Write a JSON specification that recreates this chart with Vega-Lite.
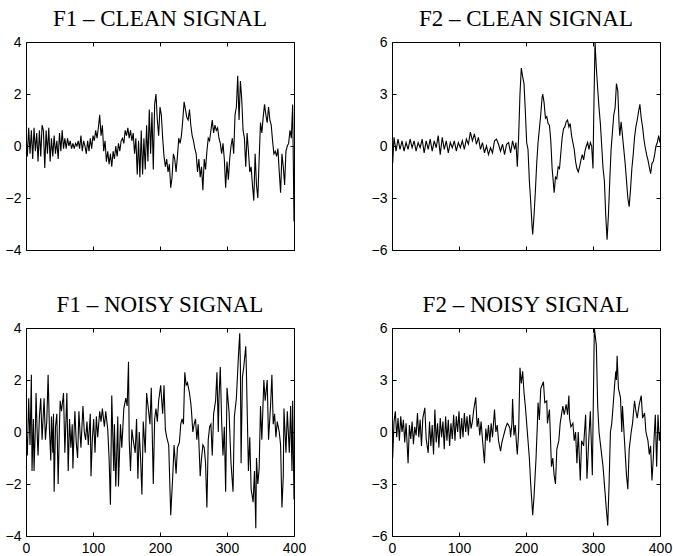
{
"$schema": "https://vega.github.io/schema/vega-lite/v6.json",
"padding": {"left": 4, "top": 7, "right": 5, "bottom": 0},
"background": "white",
"datasets": {
"f1c": [{"x":0,"y":0.5},{"x":2,"y":-0.4},{"x":4,"y":0.7},{"x":6,"y":-0.3},{"x":8,"y":0.6},{"x":10,"y":-0.5},{"x":12,"y":0.7},{"x":14,"y":-0.2},{"x":16,"y":0.5},{"x":18,"y":-0.6},{"x":20,"y":0.6},{"x":22,"y":-0.4},{"x":24,"y":0.8},{"x":26,"y":0.6},{"x":28,"y":-0.85},{"x":30,"y":0.6},{"x":32,"y":-0.3},{"x":34,"y":0.7},{"x":36,"y":-0.6},{"x":38,"y":0.3},{"x":40,"y":-0.4},{"x":42,"y":0.4},{"x":44,"y":-0.3},{"x":46,"y":0.2},{"x":48,"y":-0.5},{"x":50,"y":0.5},{"x":52,"y":-0.2},{"x":54,"y":0.6},{"x":56,"y":-0.1},{"x":58,"y":0.3},{"x":60,"y":-0.1},{"x":62,"y":0.3},{"x":64,"y":0.0},{"x":66,"y":0.2},{"x":68,"y":-0.1},{"x":70,"y":0.1},{"x":72,"y":-0.1},{"x":74,"y":0.1},{"x":76,"y":0.0},{"x":78,"y":0.2},{"x":80,"y":-0.1},{"x":82,"y":0.4},{"x":84,"y":-0.2},{"x":86,"y":0.2},{"x":88,"y":0.0},{"x":90,"y":-0.3},{"x":92,"y":0.2},{"x":94,"y":-0.2},{"x":96,"y":0.3},{"x":98,"y":-0.1},{"x":100,"y":0.4},{"x":102,"y":0.2},{"x":104,"y":0.6},{"x":106,"y":0.3},{"x":108,"y":0.7},{"x":110,"y":1.2},{"x":112,"y":0.4},{"x":114,"y":0.8},{"x":116,"y":-0.2},{"x":118,"y":0.2},{"x":120,"y":-0.6},{"x":122,"y":-0.2},{"x":124,"y":-0.7},{"x":126,"y":-0.3},{"x":128,"y":-0.8},{"x":130,"y":-0.2},{"x":132,"y":-0.5},{"x":134,"y":0.0},{"x":136,"y":-0.4},{"x":138,"y":0.1},{"x":140,"y":-0.2},{"x":142,"y":0.2},{"x":144,"y":0.3},{"x":146,"y":0.1},{"x":148,"y":0.6},{"x":150,"y":0.4},{"x":152,"y":0.7},{"x":154,"y":0.3},{"x":156,"y":0.6},{"x":158,"y":0.2},{"x":160,"y":0.5},{"x":162,"y":-0.3},{"x":164,"y":0.3},{"x":166,"y":-1.1},{"x":168,"y":0.2},{"x":170,"y":-1.2},{"x":172,"y":0.6},{"x":174,"y":-1.1},{"x":176,"y":0.3},{"x":178,"y":-0.9},{"x":180,"y":0.8},{"x":182,"y":-0.6},{"x":184,"y":1.4},{"x":186,"y":-0.3},{"x":188,"y":1.3},{"x":190,"y":-0.9},{"x":192,"y":1.6},{"x":194,"y":2.0},{"x":196,"y":1.0},{"x":198,"y":0.4},{"x":200,"y":1.5},{"x":202,"y":1.2},{"x":204,"y":0.3},{"x":206,"y":-0.4},{"x":208,"y":-0.8},{"x":210,"y":-0.5},{"x":212,"y":-1.0},{"x":214,"y":-0.7},{"x":216,"y":-1.6},{"x":218,"y":-1.2},{"x":220,"y":-0.3},{"x":222,"y":-0.5},{"x":224,"y":-1.0},{"x":226,"y":-0.4},{"x":228,"y":0.3},{"x":230,"y":0.1},{"x":232,"y":0.4},{"x":234,"y":1.0},{"x":236,"y":1.7},{"x":238,"y":1.4},{"x":240,"y":1.1},{"x":242,"y":1.0},{"x":244,"y":1.4},{"x":246,"y":0.8},{"x":248,"y":0.4},{"x":250,"y":0.2},{"x":252,"y":-0.1},{"x":254,"y":-0.3},{"x":256,"y":-1.0},{"x":258,"y":-0.5},{"x":260,"y":-1.2},{"x":262,"y":-0.8},{"x":264,"y":-1.7},{"x":266,"y":-0.5},{"x":268,"y":-0.9},{"x":270,"y":-0.2},{"x":272,"y":0.3},{"x":274,"y":0.2},{"x":276,"y":0.6},{"x":278,"y":1.0},{"x":280,"y":0.5},{"x":282,"y":0.8},{"x":284,"y":0.6},{"x":286,"y":0.7},{"x":288,"y":0.3},{"x":290,"y":0.1},{"x":292,"y":-0.3},{"x":294,"y":0.1},{"x":296,"y":-0.5},{"x":298,"y":-1.6},{"x":300,"y":-0.6},{"x":302,"y":-1.3},{"x":304,"y":-0.5},{"x":306,"y":0.0},{"x":308,"y":0.3},{"x":310,"y":-0.3},{"x":312,"y":1.2},{"x":314,"y":1.5},{"x":316,"y":2.7},{"x":318,"y":1.0},{"x":320,"y":2.5},{"x":322,"y":1.8},{"x":324,"y":0.6},{"x":326,"y":0.3},{"x":328,"y":-0.8},{"x":330,"y":0.5},{"x":332,"y":-0.2},{"x":334,"y":-1.0},{"x":336,"y":-0.8},{"x":338,"y":-1.5},{"x":340,"y":-2.1},{"x":342,"y":-0.3},{"x":344,"y":-1.5},{"x":346,"y":-2.0},{"x":348,"y":-0.5},{"x":350,"y":0.9},{"x":352,"y":0.5},{"x":354,"y":1.1},{"x":356,"y":1.6},{"x":358,"y":1.2},{"x":360,"y":0.9},{"x":362,"y":1.5},{"x":364,"y":1.0},{"x":366,"y":0.8},{"x":368,"y":0.2},{"x":370,"y":-0.3},{"x":372,"y":-0.2},{"x":374,"y":-0.4},{"x":376,"y":-0.1},{"x":378,"y":-1.0},{"x":380,"y":-1.8},{"x":382,"y":-0.3},{"x":384,"y":-0.8},{"x":386,"y":-1.5},{"x":388,"y":-0.2},{"x":390,"y":0.0},{"x":392,"y":0.1},{"x":394,"y":0.6},{"x":396,"y":0.3},{"x":398,"y":1.6},{"x":400,"y":-2.9}],
"f2c": [{"x":0,"y":0.6},{"x":1,"y":-1.0},{"x":3,"y":0.5},{"x":6,"y":-0.3},{"x":9,"y":0.4},{"x":12,"y":-0.2},{"x":15,"y":0.3},{"x":18,"y":-0.3},{"x":21,"y":0.2},{"x":24,"y":-0.2},{"x":27,"y":0.4},{"x":30,"y":-0.1},{"x":33,"y":0.3},{"x":36,"y":-0.3},{"x":39,"y":0.2},{"x":42,"y":-0.1},{"x":45,"y":0.4},{"x":48,"y":-0.4},{"x":51,"y":0.3},{"x":54,"y":-0.2},{"x":57,"y":0.4},{"x":60,"y":-0.3},{"x":63,"y":0.3},{"x":66,"y":-0.1},{"x":69,"y":0.6},{"x":72,"y":-0.5},{"x":75,"y":0.5},{"x":78,"y":-0.2},{"x":81,"y":0.3},{"x":84,"y":-0.4},{"x":87,"y":0.2},{"x":90,"y":-0.1},{"x":93,"y":0.3},{"x":96,"y":-0.3},{"x":99,"y":0.2},{"x":102,"y":-0.1},{"x":105,"y":0.3},{"x":108,"y":-0.2},{"x":111,"y":0.4},{"x":114,"y":0.1},{"x":117,"y":0.8},{"x":120,"y":0.3},{"x":123,"y":0.7},{"x":126,"y":0.1},{"x":129,"y":0.5},{"x":132,"y":-0.2},{"x":135,"y":0.2},{"x":138,"y":-0.4},{"x":141,"y":0.0},{"x":144,"y":-0.5},{"x":147,"y":-0.1},{"x":150,"y":-0.4},{"x":153,"y":0.3},{"x":156,"y":0.4},{"x":159,"y":0.1},{"x":162,"y":-0.3},{"x":165,"y":0.1},{"x":168,"y":-0.5},{"x":171,"y":0.1},{"x":174,"y":0.2},{"x":177,"y":-0.4},{"x":180,"y":0.3},{"x":183,"y":-0.2},{"x":185,"y":0.2},{"x":187,"y":-1.2},{"x":189,"y":0.5},{"x":191,"y":3.0},{"x":193,"y":4.5},{"x":195,"y":4.0},{"x":197,"y":3.6},{"x":199,"y":2.0},{"x":201,"y":0.2},{"x":203,"y":-0.2},{"x":205,"y":-2.0},{"x":207,"y":-3.2},{"x":209,"y":-4.6},{"x":210,"y":-5.1},{"x":212,"y":-4.0},{"x":214,"y":-2.6},{"x":216,"y":-1.0},{"x":218,"y":0.2},{"x":220,"y":1.0},{"x":222,"y":1.8},{"x":224,"y":2.8},{"x":225,"y":3.0},{"x":227,"y":2.5},{"x":229,"y":1.6},{"x":231,"y":1.7},{"x":233,"y":1.3},{"x":235,"y":1.2},{"x":237,"y":0.3},{"x":239,"y":-1.3},{"x":241,"y":-2.2},{"x":242,"y":-2.7},{"x":244,"y":-1.8},{"x":246,"y":-1.9},{"x":248,"y":-1.2},{"x":250,"y":-1.3},{"x":252,"y":-0.4},{"x":254,"y":0.5},{"x":256,"y":1.0},{"x":258,"y":1.1},{"x":260,"y":1.4},{"x":262,"y":1.5},{"x":264,"y":1.1},{"x":266,"y":1.3},{"x":268,"y":0.6},{"x":270,"y":0.2},{"x":272,"y":-0.2},{"x":274,"y":-0.9},{"x":276,"y":-1.3},{"x":278,"y":-1.5},{"x":280,"y":-1.2},{"x":282,"y":-0.8},{"x":284,"y":-0.5},{"x":286,"y":-0.8},{"x":288,"y":-0.3},{"x":290,"y":0.0},{"x":292,"y":0.2},{"x":294,"y":-0.2},{"x":296,"y":0.2},{"x":298,"y":0.0},{"x":300,"y":-1.3},{"x":301,"y":1.5},{"x":303,"y":6.0},{"x":305,"y":4.5},{"x":307,"y":3.3},{"x":309,"y":2.2},{"x":311,"y":1.3},{"x":313,"y":0.0},{"x":315,"y":-1.3},{"x":317,"y":-2.0},{"x":319,"y":-4.0},{"x":321,"y":-5.4},{"x":323,"y":-4.0},{"x":325,"y":-2.0},{"x":327,"y":-0.2},{"x":329,"y":0.8},{"x":331,"y":1.8},{"x":333,"y":2.2},{"x":335,"y":3.6},{"x":337,"y":3.2},{"x":339,"y":1.2},{"x":340,"y":0.6},{"x":342,"y":1.4},{"x":344,"y":0.6},{"x":346,"y":-0.2},{"x":348,"y":-1.0},{"x":350,"y":-2.0},{"x":352,"y":-3.0},{"x":354,"y":-3.5},{"x":356,"y":-2.5},{"x":358,"y":-1.3},{"x":360,"y":-0.5},{"x":362,"y":0.5},{"x":364,"y":1.1},{"x":366,"y":1.5},{"x":368,"y":2.0},{"x":370,"y":2.4},{"x":372,"y":1.6},{"x":374,"y":1.1},{"x":376,"y":0.4},{"x":378,"y":-0.1},{"x":380,"y":-0.5},{"x":382,"y":-0.8},{"x":384,"y":-1.2},{"x":386,"y":-1.6},{"x":388,"y":-1.0},{"x":390,"y":-0.9},{"x":392,"y":-0.5},{"x":394,"y":0.0},{"x":396,"y":0.2},{"x":398,"y":0.6},{"x":400,"y":0.2}],
"f1n": [{"x":0,"y":0.3},{"x":2,"y":-0.9},{"x":4,"y":1.3},{"x":6,"y":-0.5},{"x":8,"y":2.2},{"x":9,"y":-1.5},{"x":11,"y":0.5},{"x":12,"y":-1.5},{"x":14,"y":0.2},{"x":15,"y":1.5},{"x":17,"y":-0.3},{"x":18,"y":-0.9},{"x":20,"y":0.6},{"x":22,"y":1.3},{"x":24,"y":-0.3},{"x":27,"y":1.3},{"x":29,"y":-0.3},{"x":31,"y":0.4},{"x":33,"y":2.2},{"x":35,"y":0.1},{"x":37,"y":-1.1},{"x":38,"y":0.6},{"x":40,"y":-0.8},{"x":41,"y":0.7},{"x":42,"y":-2.3},{"x":44,"y":0.2},{"x":46,"y":0.7},{"x":48,"y":-2.0},{"x":50,"y":0.3},{"x":51,"y":1.2},{"x":53,"y":0.8},{"x":56,"y":1.5},{"x":58,"y":-0.8},{"x":61,"y":1.5},{"x":63,"y":-1.5},{"x":65,"y":0.5},{"x":67,"y":-0.6},{"x":69,"y":0.3},{"x":70,"y":-1.4},{"x":72,"y":0.2},{"x":73,"y":0.8},{"x":75,"y":-0.4},{"x":77,"y":-1.0},{"x":79,"y":0.8},{"x":81,"y":-0.2},{"x":82,"y":-0.6},{"x":85,"y":1.0},{"x":87,"y":0.0},{"x":89,"y":-0.3},{"x":91,"y":0.4},{"x":93,"y":-0.5},{"x":96,"y":0.7},{"x":97,"y":-1.7},{"x":99,"y":-0.3},{"x":101,"y":0.5},{"x":103,"y":-0.8},{"x":105,"y":0.6},{"x":107,"y":-0.2},{"x":110,"y":0.8},{"x":112,"y":0.4},{"x":114,"y":0.9},{"x":117,"y":0.2},{"x":119,"y":0.8},{"x":122,"y":0.1},{"x":124,"y":-1.0},{"x":126,"y":-2.8},{"x":128,"y":1.4},{"x":131,"y":-1.5},{"x":132,"y":0.3},{"x":134,"y":-2.1},{"x":137,"y":0.6},{"x":138,"y":-2.1},{"x":141,"y":0.3},{"x":143,"y":-0.6},{"x":146,"y":0.9},{"x":149,"y":1.3},{"x":151,"y":1.0},{"x":153,"y":2.7},{"x":154,"y":-0.3},{"x":156,"y":-1.5},{"x":158,"y":0.1},{"x":160,"y":-0.3},{"x":163,"y":-0.8},{"x":165,"y":0.5},{"x":167,"y":-1.8},{"x":169,"y":0.0},{"x":171,"y":-1.0},{"x":173,"y":-2.4},{"x":175,"y":0.4},{"x":178,"y":-0.8},{"x":180,"y":1.5},{"x":183,"y":0.8},{"x":185,"y":0.3},{"x":187,"y":1.7},{"x":190,"y":-2.0},{"x":192,"y":0.5},{"x":194,"y":0.9},{"x":196,"y":0.4},{"x":198,"y":1.2},{"x":201,"y":1.8},{"x":204,"y":0.7},{"x":206,"y":1.8},{"x":208,"y":0.1},{"x":210,"y":-0.2},{"x":213,"y":-0.5},{"x":216,"y":-3.2},{"x":219,"y":-1.7},{"x":221,"y":-0.5},{"x":224,"y":-1.6},{"x":226,"y":-0.6},{"x":229,"y":-0.4},{"x":231,"y":0.3},{"x":233,"y":0.5},{"x":235,"y":0.3},{"x":237,"y":2.3},{"x":239,"y":1.8},{"x":241,"y":1.9},{"x":244,"y":1.5},{"x":246,"y":1.1},{"x":247,"y":0.8},{"x":249,"y":0.0},{"x":251,"y":0.3},{"x":253,"y":0.5},{"x":255,"y":-0.3},{"x":257,"y":0.3},{"x":260,"y":-1.7},{"x":262,"y":-1.0},{"x":264,"y":-0.5},{"x":266,"y":-0.6},{"x":268,"y":-1.2},{"x":270,"y":-2.9},{"x":272,"y":-0.3},{"x":274,"y":0.2},{"x":276,"y":0.3},{"x":278,"y":-0.9},{"x":280,"y":0.7},{"x":283,"y":1.2},{"x":285,"y":2.3},{"x":287,"y":0.0},{"x":288,"y":1.3},{"x":290,"y":2.5},{"x":292,"y":0.4},{"x":294,"y":-0.9},{"x":296,"y":0.2},{"x":298,"y":-2.3},{"x":300,"y":1.7},{"x":303,"y":0.8},{"x":306,"y":-1.2},{"x":309,"y":-2.3},{"x":311,"y":0.6},{"x":314,"y":1.3},{"x":317,"y":2.9},{"x":319,"y":3.8},{"x":320,"y":2.5},{"x":321,"y":-1.2},{"x":323,"y":2.1},{"x":325,"y":2.5},{"x":328,"y":3.3},{"x":329,"y":2.3},{"x":330,"y":1.0},{"x":332,"y":-1.5},{"x":334,"y":-0.2},{"x":336,"y":-2.2},{"x":339,"y":-2.7},{"x":341,"y":-1.5},{"x":343,"y":-3.7},{"x":344,"y":-1.0},{"x":346,"y":-2.0},{"x":348,"y":-1.4},{"x":350,"y":1.0},{"x":352,"y":-0.3},{"x":355,"y":2.0},{"x":357,"y":1.2},{"x":360,"y":2.0},{"x":362,"y":-0.3},{"x":365,"y":1.0},{"x":367,"y":2.2},{"x":369,"y":0.3},{"x":371,"y":0.7},{"x":373,"y":-0.2},{"x":375,"y":0.4},{"x":378,"y":0.0},{"x":380,"y":-0.5},{"x":382,"y":-2.9},{"x":384,"y":-1.7},{"x":385,"y":0.9},{"x":388,"y":-0.8},{"x":390,"y":0.8},{"x":393,"y":-0.8},{"x":395,"y":1.0},{"x":397,"y":-1.5},{"x":398,"y":1.2},{"x":400,"y":-2.6}],
"f2n": [{"x":0,"y":1.7},{"x":1,"y":-1.5},{"x":3,"y":0.6},{"x":5,"y":1.2},{"x":7,"y":-0.3},{"x":9,"y":0.8},{"x":11,"y":-0.5},{"x":13,"y":0.9},{"x":15,"y":0.0},{"x":17,"y":0.7},{"x":19,"y":-0.6},{"x":21,"y":0.5},{"x":24,"y":-1.8},{"x":26,"y":0.4},{"x":28,"y":-0.4},{"x":30,"y":0.6},{"x":32,"y":-0.7},{"x":34,"y":0.3},{"x":36,"y":-0.2},{"x":38,"y":1.1},{"x":40,"y":-0.3},{"x":42,"y":0.7},{"x":44,"y":-0.8},{"x":46,"y":0.8},{"x":49,"y":1.4},{"x":51,"y":-0.4},{"x":54,"y":-1.2},{"x":56,"y":0.6},{"x":58,"y":-0.8},{"x":60,"y":0.4},{"x":62,"y":-1.3},{"x":64,"y":1.3},{"x":66,"y":-0.6},{"x":68,"y":0.5},{"x":70,"y":-0.9},{"x":72,"y":0.8},{"x":74,"y":-0.3},{"x":76,"y":0.6},{"x":78,"y":-1.0},{"x":80,"y":0.9},{"x":82,"y":-0.5},{"x":84,"y":0.7},{"x":86,"y":-0.8},{"x":88,"y":0.5},{"x":90,"y":-0.4},{"x":92,"y":1.0},{"x":94,"y":-0.5},{"x":96,"y":0.9},{"x":98,"y":0.0},{"x":100,"y":1.2},{"x":102,"y":-0.4},{"x":104,"y":0.8},{"x":106,"y":-0.3},{"x":108,"y":1.1},{"x":110,"y":0.0},{"x":112,"y":0.9},{"x":114,"y":-0.2},{"x":116,"y":1.0},{"x":118,"y":0.2},{"x":120,"y":0.6},{"x":122,"y":1.3},{"x":125,"y":2.0},{"x":127,"y":0.3},{"x":129,"y":0.8},{"x":131,"y":-0.2},{"x":133,"y":0.6},{"x":135,"y":-0.4},{"x":138,"y":-1.8},{"x":140,"y":0.2},{"x":142,"y":-0.5},{"x":144,"y":0.4},{"x":146,"y":-0.6},{"x":148,"y":0.5},{"x":150,"y":-0.3},{"x":153,"y":1.3},{"x":155,"y":0.0},{"x":157,"y":0.4},{"x":159,"y":-0.5},{"x":162,"y":-1.1},{"x":164,"y":-0.6},{"x":166,"y":-0.3},{"x":168,"y":0.0},{"x":170,"y":0.3},{"x":172,"y":0.5},{"x":174,"y":0.4},{"x":176,"y":0.2},{"x":177,"y":-0.3},{"x":179,"y":0.5},{"x":180,"y":1.9},{"x":182,"y":-0.2},{"x":184,"y":0.4},{"x":186,"y":-0.8},{"x":187,"y":-1.3},{"x":189,"y":0.0},{"x":191,"y":3.7},{"x":193,"y":2.8},{"x":195,"y":3.5},{"x":197,"y":2.3},{"x":199,"y":1.5},{"x":202,"y":0.0},{"x":205,"y":-1.5},{"x":207,"y":-3.0},{"x":210,"y":-4.8},{"x":212,"y":-3.7},{"x":215,"y":-1.5},{"x":217,"y":0.5},{"x":218,"y":1.7},{"x":220,"y":0.7},{"x":222,"y":2.5},{"x":224,"y":2.7},{"x":226,"y":2.9},{"x":228,"y":1.7},{"x":231,"y":1.8},{"x":232,"y":0.5},{"x":235,"y":1.3},{"x":238,"y":-2.0},{"x":240,"y":-1.5},{"x":242,"y":-2.5},{"x":244,"y":-3.0},{"x":246,"y":-1.0},{"x":249,"y":-0.5},{"x":251,"y":0.5},{"x":253,"y":1.0},{"x":255,"y":1.5},{"x":257,"y":1.0},{"x":260,"y":1.6},{"x":262,"y":1.0},{"x":264,"y":2.1},{"x":265,"y":0.8},{"x":267,"y":0.3},{"x":270,"y":0.5},{"x":272,"y":-0.5},{"x":274,"y":0.0},{"x":276,"y":-1.8},{"x":278,"y":0.0},{"x":281,"y":-2.8},{"x":283,"y":-0.5},{"x":286,"y":-0.8},{"x":289,"y":1.0},{"x":291,"y":-2.7},{"x":294,"y":-0.2},{"x":296,"y":1.2},{"x":299,"y":-2.5},{"x":302,"y":6.0},{"x":305,"y":5.0},{"x":307,"y":1.5},{"x":309,"y":0.0},{"x":312,"y":-1.0},{"x":315,"y":-2.0},{"x":318,"y":-3.5},{"x":320,"y":-4.5},{"x":322,"y":-5.4},{"x":324,"y":-3.0},{"x":326,"y":0.0},{"x":328,"y":0.5},{"x":330,"y":1.5},{"x":332,"y":2.6},{"x":334,"y":3.5},{"x":335,"y":3.0},{"x":336,"y":4.4},{"x":338,"y":2.5},{"x":341,"y":2.0},{"x":343,"y":0.0},{"x":344,"y":1.5},{"x":347,"y":-0.5},{"x":350,"y":-2.5},{"x":352,"y":-3.3},{"x":354,"y":-1.0},{"x":357,"y":0.0},{"x":359,"y":0.5},{"x":362,"y":1.8},{"x":364,"y":1.2},{"x":366,"y":0.8},{"x":369,"y":1.6},{"x":372,"y":2.1},{"x":374,"y":0.8},{"x":377,"y":1.1},{"x":379,"y":0.0},{"x":382,"y":-0.5},{"x":384,"y":-1.3},{"x":386,"y":-0.8},{"x":388,"y":-2.8},{"x":390,"y":-1.5},{"x":391,"y":-0.5},{"x":393,"y":1.0},{"x":395,"y":-2.0},{"x":397,"y":1.0},{"x":399,"y":-0.5},{"x":400,"y":0.0}]
},
"columns": 2,
"bounds": "flush",
"spacing": {"row": 78, "column": 98},
"concat": [
{"width": 268, "height": 208, "title": "F1 – CLEAN SIGNAL", "data": {"name": "f1c"},
 "layer": [
  {"mark": {"type": "line", "color": "black", "strokeWidth": 1.1, "clip": true},
   "encoding": {"x": {"field": "x", "type": "quantitative", "scale": {"domain": [0, 400], "nice": false}, "axis": {"orient": "bottom", "values": [0,100,200,300,400], "labels": false, "title": null}},
                "y": {"field": "y", "type": "quantitative", "scale": {"domain": [-4, 4], "nice": false}, "axis": {"orient": "left", "values": [-4,-2,0,2,4], "title": null}}}},
  {"mark": {"type": "line", "opacity": 0},
   "encoding": {"x": {"field": "x", "type": "quantitative", "axis": {"orient": "top", "values": [0,100,200,300,400], "labels": false, "title": null}},
                "y": {"field": "y", "type": "quantitative", "axis": {"orient": "right", "values": [-4,-2,0,2,4], "labels": false, "title": null}}}}
 ],
 "resolve": {"axis": {"x": "independent", "y": "independent"}}},
{"width": 268, "height": 208, "title": "F2 – CLEAN SIGNAL", "data": {"name": "f2c"},
 "layer": [
  {"mark": {"type": "line", "color": "black", "strokeWidth": 1.1, "clip": true},
   "encoding": {"x": {"field": "x", "type": "quantitative", "scale": {"domain": [0, 400], "nice": false}, "axis": {"orient": "bottom", "values": [0,100,200,300,400], "labels": false, "title": null}},
                "y": {"field": "y", "type": "quantitative", "scale": {"domain": [-6, 6], "nice": false}, "axis": {"orient": "left", "values": [-6,-3,0,3,6], "title": null}}}},
  {"mark": {"type": "line", "opacity": 0},
   "encoding": {"x": {"field": "x", "type": "quantitative", "axis": {"orient": "top", "values": [0,100,200,300,400], "labels": false, "title": null}},
                "y": {"field": "y", "type": "quantitative", "axis": {"orient": "right", "values": [-6,-3,0,3,6], "labels": false, "title": null}}}}
 ],
 "resolve": {"axis": {"x": "independent", "y": "independent"}}},
{"width": 268, "height": 208, "title": "F1 – NOISY SIGNAL", "data": {"name": "f1n"},
 "layer": [
  {"mark": {"type": "line", "color": "black", "strokeWidth": 1.1, "clip": true},
   "encoding": {"x": {"field": "x", "type": "quantitative", "scale": {"domain": [0, 400], "nice": false}, "axis": {"orient": "bottom", "values": [0,100,200,300,400], "title": null}},
                "y": {"field": "y", "type": "quantitative", "scale": {"domain": [-4, 4], "nice": false}, "axis": {"orient": "left", "values": [-4,-2,0,2,4], "title": null}}}},
  {"mark": {"type": "line", "opacity": 0},
   "encoding": {"x": {"field": "x", "type": "quantitative", "axis": {"orient": "top", "values": [0,100,200,300,400], "labels": false, "title": null}},
                "y": {"field": "y", "type": "quantitative", "axis": {"orient": "right", "values": [-4,-2,0,2,4], "labels": false, "title": null}}}}
 ],
 "resolve": {"axis": {"x": "independent", "y": "independent"}}},
{"width": 268, "height": 208, "title": "F2 – NOISY SIGNAL", "data": {"name": "f2n"},
 "layer": [
  {"mark": {"type": "line", "color": "black", "strokeWidth": 1.1, "clip": true},
   "encoding": {"x": {"field": "x", "type": "quantitative", "scale": {"domain": [0, 400], "nice": false}, "axis": {"orient": "bottom", "values": [0,100,200,300,400], "title": null}},
                "y": {"field": "y", "type": "quantitative", "scale": {"domain": [-6, 6], "nice": false}, "axis": {"orient": "left", "values": [-6,-3,0,3,6], "title": null}}}},
  {"mark": {"type": "line", "opacity": 0},
   "encoding": {"x": {"field": "x", "type": "quantitative", "axis": {"orient": "top", "values": [0,100,200,300,400], "labels": false, "title": null}},
                "y": {"field": "y", "type": "quantitative", "axis": {"orient": "right", "values": [-6,-3,0,3,6], "labels": false, "title": null}}}}
 ],
 "resolve": {"axis": {"x": "independent", "y": "independent"}}}
],
"config": {
 "view": {"stroke": "black", "strokeWidth": 1},
 "axis": {"grid": false, "domain": false, "ticks": true, "tickSize": -4, "tickColor": "black", "tickWidth": 1, "labelFont": "Liberation Sans", "labelFontSize": 14, "labelColor": "black", "labelPadding": 9, "labelFlush": false},
 "title": {"font": "Liberation Serif", "fontSize": 23, "fontWeight": "normal", "color": "black", "anchor": "middle", "offset": 4, "baseline": "alphabetic"}
}
}
